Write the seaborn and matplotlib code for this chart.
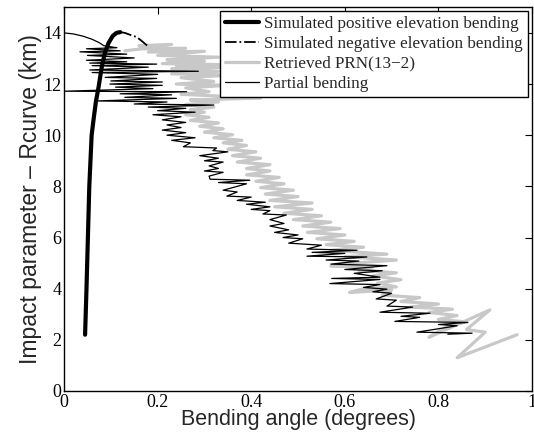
import matplotlib
matplotlib.use("Agg")
import matplotlib.pyplot as plt
import seaborn as sns
import numpy as np
import pandas as pd

# ---- data ----
pos_x = [0.045, 0.048, 0.051, 0.054, 0.059, 0.063, 0.068, 0.074, 0.080, 0.087, 0.095, 0.104, 0.112, 0.120]
pos_y = [2.2, 4.0, 6.0, 8.0, 10.0, 10.6, 11.3, 11.9, 12.6, 13.2, 13.6, 13.88, 14.0, 14.03]

neg_x = [0.120, 0.130, 0.145, 0.155, 0.165, 0.178]
neg_y = [14.03, 14.0, 13.9, 13.84, 13.7, 13.5]

ret_x = [0.13, 0.20, 0.16, 0.23, 0.17, 0.26, 0.18, 0.30, 0.20, 0.33, 0.22, 0.30, 0.21, 0.34, 0.24,
         0.42, 0.23, 0.33, 0.23, 0.36, 0.25, 0.32, 0.24, 0.35, 0.26, 0.31, 0.25, 0.42, 0.27, 0.33,
         0.26, 0.32, 0.27,
         0.30, 0.26, 0.31, 0.27, 0.33, 0.29, 0.34, 0.30, 0.36, 0.32, 0.38, 0.34, 0.39, 0.35, 0.41,
         0.36, 0.42, 0.37, 0.44, 0.39, 0.44, 0.39, 0.46, 0.41, 0.47, 0.42, 0.49, 0.43, 0.50, 0.44,
         0.53, 0.45, 0.53, 0.47, 0.55, 0.49, 0.57, 0.51, 0.59, 0.52, 0.60, 0.54, 0.62, 0.56, 0.64,
         0.57, 0.69, 0.60, 0.71, 0.62, 0.57, 0.66, 0.63, 0.71, 0.66, 0.72, 0.67, 0.71, 0.64, 0.61,
         0.70, 0.68, 0.76, 0.72, 0.80, 0.74, 0.83, 0.78, 0.84, 0.80, 0.86, 0.82, 0.78, 0.91, 0.86,
         0.90, 0.84, 0.968]
ret_y = [13.30, 13.45, 13.50, 13.55, 13.38, 13.40, 13.25, 13.28, 13.12, 13.05, 12.95, 12.90, 12.80, 12.76, 12.72,
         12.70, 12.60, 12.50, 12.40, 12.35, 12.25, 12.10, 12.00, 11.95, 11.85, 11.70, 11.60, 11.45, 11.38, 11.30,
         11.20, 11.10, 11.00,
         10.90, 10.80, 10.70, 10.58, 10.48, 10.35, 10.25, 10.12, 10.02, 9.90, 9.80, 9.70, 9.60, 9.45, 9.35,
         9.20, 9.10, 8.95, 8.85, 8.70, 8.60, 8.45, 8.35, 8.20, 8.10, 7.95, 7.85, 7.70, 7.60, 7.45,
         7.35, 7.20, 7.10, 6.95, 6.85, 6.70, 6.60, 6.45, 6.35, 6.20, 6.10, 5.95, 5.85, 5.72, 5.62,
         5.50, 5.35, 5.25, 5.12, 5.00, 4.88, 4.85, 4.72, 4.62, 4.50, 4.35, 4.22, 4.07, 4.00, 3.85,
         3.95, 3.75, 3.65, 3.50, 3.40, 3.28, 3.20, 3.07, 2.95, 2.80, 2.70, 2.55, 2.10, 3.17, 2.40,
         2.30, 1.30, 2.20]

par_x = [0.0, 0.02, 0.041, 0.06, 0.075, 0.085,
         0.113, 0.048, 0.120, 0.034, 0.134, 0.050, 0.150, 0.048, 0.134, 0.055, 0.198, 0.060, 0.180,
         0.055, 0.287, 0.060, 0.200, 0.088, 0.198, 0.100, 0.210, 0.098, 0.210, 0.110, 0.190, 0.0,
         0.262, 0.120, 0.230, 0.130, 0.240, 0.070, 0.220, 0.150, 0.320, 0.180, 0.260, 0.200, 0.280,
         0.190, 0.250, 0.210, 0.260, 0.220,
         0.250, 0.210, 0.260, 0.220, 0.280, 0.230, 0.270, 0.255, 0.326, 0.318, 0.350, 0.290, 0.330,
         0.300, 0.340, 0.310, 0.330, 0.300, 0.340, 0.310, 0.312, 0.397, 0.330, 0.390, 0.340, 0.370,
         0.348, 0.400, 0.370, 0.430, 0.390, 0.440, 0.400, 0.440, 0.425, 0.475, 0.440, 0.470, 0.440,
         0.480, 0.450, 0.500, 0.468, 0.510, 0.480, 0.550, 0.519, 0.626, 0.530, 0.600, 0.519, 0.647,
         0.560, 0.630, 0.570, 0.690, 0.660, 0.600, 0.680, 0.620, 0.675, 0.572, 0.675, 0.568, 0.675,
         0.640, 0.690, 0.660, 0.700, 0.667, 0.710, 0.690, 0.745, 0.675, 0.782, 0.720, 0.760, 0.707,
         0.863, 0.800, 0.840, 0.754, 0.872, 0.820]
par_y = [14.0, 13.96, 13.87, 13.75, 13.62, 13.50,
         13.42, 13.38, 13.30, 13.26, 13.17, 13.12, 13.02, 12.93, 12.87, 12.82, 12.78, 12.72, 12.66,
         12.55, 12.50, 12.45, 12.38, 12.26, 12.22, 12.12, 12.08, 12.00, 11.95, 11.88, 11.82, 11.72,
         11.70, 11.62, 11.58, 11.48, 11.44, 11.34, 11.30, 11.22, 11.18, 11.10, 11.05, 10.96, 10.90,
         10.80, 10.72, 10.60, 10.50, 10.40,
         10.30, 10.20, 10.10, 10.00, 9.90, 9.80, 9.70, 9.55, 9.50, 9.40, 9.35, 9.20, 9.10,
         9.00, 8.95, 8.80, 8.70, 8.60, 8.55, 8.40, 8.28, 8.24, 8.15, 8.10, 7.85, 7.78,
         7.62, 7.58, 7.45, 7.38, 7.30, 7.20, 7.10, 7.05, 6.92, 6.88, 6.70, 6.55, 6.45,
         6.30, 6.20, 6.10, 6.00, 5.95, 5.78, 5.70, 5.55, 5.50, 5.42, 5.38, 5.27, 5.24,
         5.12, 5.08, 4.96, 4.90, 4.85, 4.75, 4.70, 4.60, 4.45, 4.40, 4.36, 4.20, 4.16,
         4.05, 3.98, 3.88, 3.82, 3.60, 3.55, 3.32, 3.28, 3.08, 3.04, 2.92, 2.88, 2.72,
         2.68, 2.60, 2.55, 2.30, 2.26, 2.22]

labels = ["Simulated positive elevation bending",
          "Simulated negative elevation bending",
          "Retrieved PRN(13\u22122)",
          "Partial bending"]
x_ticks = [0, 0.2, 0.4, 0.6, 0.8, 1]
x_ticklabels = ["0", "0.2", "0.4", "0.6", "0.8", "1"]
y_ticks = [0, 2, 4, 6, 8, 10, 12, 14]

# ---- plot ----
sns.set_style("white")
plt.rcParams["font.family"] = ["Liberation Serif", "DejaVu Serif"]

fig = plt.figure(figsize=(5.34, 4.41), dpi=100)
ax = fig.add_axes([0.1199, 0.1134, 0.8764, 0.870])

sns.lineplot(x=pos_x, y=pos_y, sort=False, estimator=None, ax=ax, color="black",
             linewidth=3.0, label=labels[0], zorder=5)
sns.lineplot(x=neg_x, y=neg_y, sort=False, estimator=None, ax=ax, color="black",
             linewidth=1.3, linestyle="-.", label=labels[1], zorder=5)
sns.lineplot(x=ret_x, y=ret_y, sort=False, estimator=None, ax=ax, color="#c8c8c8",
             linewidth=2.3, label=labels[2], zorder=2)
sns.lineplot(x=par_x, y=par_y, sort=False, estimator=None, ax=ax, color="black",
             linewidth=0.9, label=labels[3], zorder=3)

ax.set_xlim(0, 1)
ax.set_ylim(0, 15)
ax.set_xticks(x_ticks)
ax.set_xticklabels(x_ticklabels)
ax.set_yticks(y_ticks)
ax.tick_params(direction="in", top=True, right=True, length=5, width=0.8,
               labelsize=13, colors="black", pad=2)
for s in ax.spines.values():
    s.set_visible(True)
    s.set_color("black")
    s.set_linewidth(1.0)

ax.set_xlabel("Bending angle (degrees)", fontsize=15.5, family=["Liberation Sans", "DejaVu Sans"], labelpad=-1)
ax.set_ylabel("Impact parameter \u2013 Rcurve (km)", fontsize=16.5,
              family=["Liberation Sans", "DejaVu Sans"], labelpad=1)

leg = ax.legend(loc="upper right", bbox_to_anchor=(0.991, 0.99), borderaxespad=0,
                fontsize=12.3, frameon=True, fancybox=False, framealpha=1,
                edgecolor="black", handlelength=1.95, handletextpad=0.3,
                labelspacing=0.22, borderpad=0.3)
leg.get_frame().set_linewidth(1.0)

fig.savefig("out.png", dpi=100)
